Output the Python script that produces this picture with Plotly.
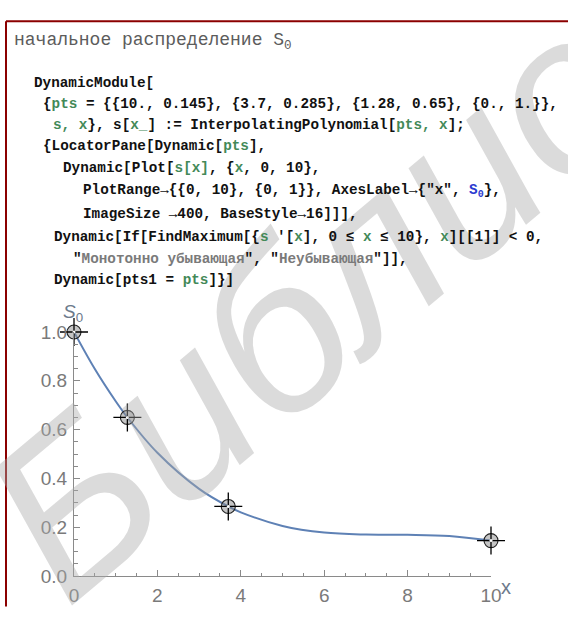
import plotly.graph_objects as go

# ---- data ----
pts_x = [10.0, 3.7, 1.28, 0.0]
pts_y = [0.145, 0.285, 0.65, 1.0]

# curve
curve_x = [0, 0.5, 1, 1.28, 2, 3, 3.7, 4, 5, 6, 7, 8, 9, 10]
curve_y = [1.0, 0.848, 0.716, 0.65, 0.505, 0.357, 0.285, 0.261, 0.205, 0.178, 0.170, 0.169, 0.164, 0.145]

x_ticks = [0, 2, 4, 6, 8, 10]
y_ticks = [0.0, 0.2, 0.4, 0.6, 0.8, 1.0]

W, H = 568, 618
L, R, T, B = 74, 77, 332, 30
PW, PH = W - L - R, H - T - B


def px(x):
    return (x - L) / PW


def py(y):
    return (H - B - y) / PH


G = "#438958"   # local variable green
BL = "#2b3bd0"  # global symbol blue
SG = "#7a7a7a"  # string grey
K = "#111111"

code_lines = [
    (32, 71, [("DynamicModule[", K)]),
    (41, 93, [("{", K), ("pts", G), (" = {{10., 0.145}, {3.7, 0.285}, {1.28, 0.65}, {0., 1.}},", K)]),
    (51, 115, [("s, x", G), ("}, s[", K), ("x_", G), ("] := InterpolatingPolynomial[", K), ("pts, x", G), ("];", K)]),
    (41, 137, [("{LocatorPane[Dynamic[", K), ("pts", G), ("],", K)]),
    (61, 160, [("Dynamic[Plot[", K), ("s[x]", G), (", {", K), ("x", G), (", 0, 10},", K)]),
    (81, 184, [("PlotRange→{{0, 10}, {0, 1}}, AxesLabel→{\"x\", ", K), ("S<sub>0</sub>", BL), ("},", K)]),
    (81, 208, [("ImageSize →400, BaseStyle→16]]],", K)]),
    (52, 232, [("Dynamic[If[FindMaximum[{", K), ("s", G), (" '[", K), ("x", G), ("], 0 ≤ ", K), ("x", G),
               (" ≤ 10}, ", K), ("x", G), ("][[1]] &lt; 0,", K)]),
    (71, 255, [("\"", K), ("Монотонно убывающая", SG), ("\", \"", K), ("Неубывающая", SG), ("\"]],", K)]),
    (52, 277, [("Dynamic[pts1 = ", K), ("pts", G), ("]}]", K)]),
]

fig = go.Figure()

fig.add_trace(go.Scatter(
    x=curve_x, y=curve_y, mode="lines", line=dict(color="#5E81B5", width=2, shape="spline", smoothing=1.0),
    hoverinfo="skip", cliponaxis=False,
))
fig.add_trace(go.Scatter(
    x=pts_x, y=pts_y, mode="markers", cliponaxis=False,
    marker=dict(symbol="circle", size=14, color="rgba(140,140,140,0.5)", line=dict(color="#222", width=1.1)),
))
fig.add_trace(go.Scatter(
    x=pts_x, y=pts_y, mode="markers", cliponaxis=False,
    marker=dict(symbol="cross-thin", size=20, line=dict(color="#000", width=1.3)),
))
fig.add_trace(go.Scatter(
    x=pts_x, y=pts_y, mode="markers", cliponaxis=False,
    marker=dict(symbol="circle", size=3, color="#ffffff", line=dict(width=0)),
))

tickfont = dict(family="Liberation Sans, Arial, sans-serif", size=19, color="#7a7a7a")
axcol = "#8a8a8a"
fig.update_xaxes(
    range=[0, 10], tickvals=x_ticks, ticktext=[str(v) for v in x_ticks], showline=True, linecolor=axcol, linewidth=1,
    ticks="inside", ticklen=6, tickcolor=axcol, tickwidth=1, showgrid=False, zeroline=False,
    tickfont=tickfont, ticklabelstandoff=2,
    minor=dict(ticks="inside", ticklen=3.5, tickcolor=axcol, dtick=0.5, tick0=0, showgrid=False),
)
fig.update_yaxes(
    range=[0, 1], tickvals=y_ticks, ticktext=[f"{v:.1f}" for v in y_ticks], showline=True, linecolor=axcol, linewidth=1,
    ticks="inside", ticklen=6, tickcolor=axcol, tickwidth=1, showgrid=False, zeroline=False,
    tickfont=tickfont, ticklabelstandoff=2,
    minor=dict(ticks="inside", ticklen=3.5, tickcolor=axcol, dtick=0.05, tick0=0, showgrid=False),
)

annotations = []
# watermark (first so the rest is drawn over it)
annotations.append(dict(
    x=px(520), y=py(118), xref="paper", yref="paper", xanchor="center", yanchor="middle", showarrow=False,
    text="<i>Библиотека</i>", textangle=-40,
    font=dict(family="Liberation Sans, Arial, sans-serif", size=225, color="rgba(170,170,170,0.42)"),
))
# title line
annotations.append(dict(
    x=px(12), y=py(27), xref="paper", yref="paper", xanchor="left", yanchor="middle", showarrow=False,
    text="начальное распределение S<sub>0</sub>",
    font=dict(family="Liberation Mono, Courier New, monospace", size=18, color="#5c5c5c"),
))
for (lx, ly, segs) in code_lines:
    txt = "".join(f"<span style='color:{c}'>{t}</span>" for t, c in segs)
    annotations.append(dict(
        x=px(lx), y=py(ly), xref="paper", yref="paper", xanchor="left", yanchor="middle", showarrow=False,
        text=txt, font=dict(family="Liberation Mono, Courier New, monospace", size=14.3, color=K, weight="bold"),
    ))
# axes labels
annotations.append(dict(
    x=px(61), y=py(312), xref="paper", yref="paper", xanchor="left", yanchor="middle", showarrow=False,
    text="<i>S</i><sub>0</sub>", font=dict(family="Liberation Sans, Arial, sans-serif", size=19, color="#6d7a8c"),
))
annotations.append(dict(
    x=px(499), y=py(600), xref="paper", yref="paper", xanchor="left", yanchor="middle", showarrow=False,
    text="x", font=dict(family="Liberation Sans, Arial, sans-serif", size=20, color="#6d7a8c"),
))

shapes = [
    dict(type="line", xref="paper", yref="paper", x0=px(6), x1=px(W + 2), y0=py(6), y1=py(6),
         line=dict(color="#8b0000", width=2)),
    dict(type="line", xref="paper", yref="paper", x0=px(6), x1=px(6), y0=py(6), y1=py(H + 2),
         line=dict(color="#8b0000", width=2)),
]

fig.update_layout(
    width=W, height=H, margin=dict(l=L, r=R, t=T, b=B), paper_bgcolor="white", plot_bgcolor="white",
    showlegend=False, annotations=annotations, shapes=shapes,
)

fig.write_html("out.html")
